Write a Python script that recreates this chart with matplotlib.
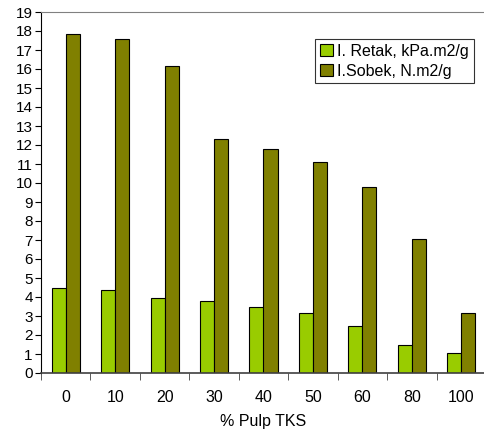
import matplotlib
matplotlib.use("Agg")
import matplotlib.pyplot as plt
import numpy as np

categories = ["0", "10", "20", "30", "40", "50", "60", "80", "100"]
retak = [4.45, 4.37, 3.93, 3.78, 3.46, 3.14, 2.48, 1.46, 1.03]
sobek = [17.86, 17.6, 16.16, 12.32, 11.77, 11.09, 9.8, 7.05, 3.14]

plt.rcParams['font.family'] = ['Liberation Sans', 'DejaVu Sans']

fig = plt.figure(figsize=(4.85, 4.3), dpi=100)
ax = fig.add_axes([41 / 485, 1 - 373 / 430, 445 / 485, 361 / 430])

x = np.arange(len(categories))
w = 0.285
ax.bar(x - w / 2, retak, w, color="#99CC00", edgecolor="black", linewidth=0.8,
       label="I. Retak, kPa.m2/g")
ax.bar(x + w / 2, sobek, w, color="#808000", edgecolor="black", linewidth=0.8,
       label="I.Sobek, N.m2/g")

ax.set_xlim(-0.5, len(categories) - 0.5)
ax.set_ylim(0, 19)
ax.set_yticks(range(0, 20))
ax.set_xticks(x)
ax.set_xticklabels(categories)
ax.set_xticks(np.arange(-0.5, len(categories), 1), minor=True)
ax.tick_params(axis="x", which="major", length=0, pad=12, labelsize=11.5)
ax.tick_params(axis="x", which="minor", length=5, direction="out", color="#404040")
ax.tick_params(axis="y", length=4, direction="out", labelsize=11, pad=2)

ax.spines["right"].set_visible(False)
ax.spines["top"].set_color("#808080")
ax.spines["left"].set_color("black")
ax.spines["bottom"].set_color("#404040")
ax.spines["bottom"].set_linewidth(1.2)

ax.set_xlabel("% Pulp TKS", fontsize=11.5, labelpad=7)

# legend box: top right corner at (474, 39) px
anchor = ((474 - 41) / 445, 1 - (39 - 12) / 361)
leg = ax.legend(loc="upper right", bbox_to_anchor=anchor,
                fontsize=11.5, frameon=True, fancybox=False, edgecolor="black",
                handlelength=0.8, handleheight=0.8, handletextpad=0.3,
                borderpad=0.3, labelspacing=0.3, borderaxespad=0)
leg.get_frame().set_linewidth(0.8)

fig.savefig("out.png", dpi=100)
